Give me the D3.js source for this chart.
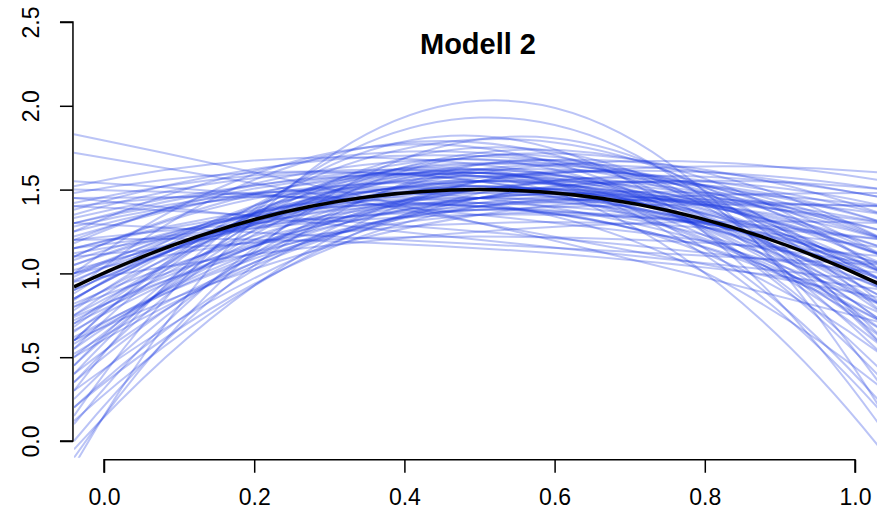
<!DOCTYPE html>
<html>
<head>
<meta charset="utf-8">
<script src="https://cdn.jsdelivr.net/npm/d3@7"></script>
<style>
  body { margin: 0; background: #fff; }
  #chart { width: 877px; height: 521px; }
  text { font-family: "Liberation Sans", Arial, Helvetica, sans-serif; }
</style>
</head>
<body>
<div id="chart"></div>
<script>
// Modell 2: fitted quadratic curves (blue) around the true curve (black)
// each curve read as its value at the left edge (x=-0.04), middle (x=0.5), right edge (x=1.04)
const curveLeft = [
  -0.15, 0.15, -0.10, 0.30, 0.00, 0.10, 0.25, 0.40, -0.05, 0.20, 0.35, 0.45, 0.55, 0.50, 0.60, 0.12, 0.30,
  0.55, 0.60, 0.65, 0.70, 0.75, 0.80, 0.62, 0.68, 0.85, 0.90, 0.72, 0.78, 0.58, 0.82, 0.88, 0.95, 0.66, 0.92, 0.98, 0.74, 0.84, 0.52, 0.96,
  1.00, 1.05, 1.10, 1.15, 1.20, 1.02, 1.25, 1.08, 1.18, 1.30, 1.12, 1.22, 1.28, 1.05, 1.33, 1.15, 1.25, 1.10, 1.20, 1.30, 1.00, 1.35,
  1.40, 1.42, 1.45, 1.48, 1.50, 1.52, 1.55, 1.38, 1.83, 1.72, 1.40, 1.45,
  1.30, 1.20, 1.10, 0.95,
  1.00, 0.80, 0.70, 0.90, 0.50, 1.15, 0.60, 0.85,
  0.60, 0.90, 0.45, 1.00, 0.75, 0.35, 0.20, 0.40, 0.85
];
const curveMid = [
  2.03, 1.93, 1.80, 1.82, 1.65, 1.70, 1.62, 1.75, 1.55, 1.55, 1.60, 1.58, 1.68, 1.52, 1.62, 1.48, 1.45,
  1.50, 1.45, 1.55, 1.60, 1.48, 1.52, 1.40, 1.58, 1.55, 1.50, 1.42, 1.62, 1.38, 1.45, 1.60, 1.52, 1.50, 1.45, 1.58, 1.35, 1.66, 1.42, 1.40,
  1.55, 1.48, 1.62, 1.50, 1.58, 1.45, 1.55, 1.40, 1.68, 1.50, 1.35, 1.62, 1.45, 1.57, 1.60, 1.42, 1.72, 1.52, 1.38, 1.65, 1.30, 1.55,
  1.50, 1.60, 1.45, 1.55, 1.40, 1.65, 1.35, 1.70, 1.30, 1.30, 1.25, 1.20,
  1.18, 1.15, 1.22, 1.25,
  1.55, 1.45, 1.50, 1.60, 1.45, 1.40, 1.35, 1.65,
  1.80, 1.78, 1.72, 1.75, 1.70, 1.50, 1.40, 1.38, 1.42
];
const curveRight = [
  0.15, 0.30, 0.55, 0.05, 0.75, 0.55, 0.90, 0.60, 1.00, 1.10, 0.20, -0.08, 0.35, 0.55, 0.15, 1.20, 1.30,
  0.90, 1.10, 0.80, 0.70, 1.00, 0.85, 1.20, 0.60, 0.95, 1.10, 0.95, 0.75, 0.80, 1.25, 0.65, 0.80, 1.30, 0.90, 1.05, 1.05, 0.90, 1.15, 0.70,
  1.20, 0.95, 1.00, 1.30, 0.85, 1.40, 1.15, 0.75, 1.10, 1.00, 1.20, 1.35, 0.80, 1.50, 1.25, 1.05, 0.95, 0.65, 1.40, 1.45, 1.15, 0.70,
  1.30, 1.10, 1.40, 0.90, 1.20, 1.00, 1.05, 1.20, 0.70, 0.85, 1.00, 0.95,
  1.05, 0.90, 1.10, 1.30,
  1.60, 1.50, 1.45, 1.55, 1.40, 1.48, 1.35, 1.35,
  0.80, 0.50, 1.00, 0.40, 1.20, 0.70, 0.95, 0.50, 0.30
];
// true curve at the same three positions
const trueCurve = [0.92, 1.50, 0.92];

const xTicks = [0, 0.2, 0.4, 0.6, 0.8, 1.0];
const yTicks = [0, 0.5, 1.0, 1.5, 2.0, 2.5];
const xEnds = [-0.04, 0.5, 1.04];
const title = 'Modell 2';

const W = 877, H = 521;
const svg = d3.select('#chart').append('svg')
  .attr('width', W)
  .attr('height', H);

const x = d3.scaleLinear().domain([0, 1]).range([104, 855]);
const y = d3.scaleLinear().domain([0, 2.5]).range([441, 22]);

// plot region clip (R extends the ranges by 4%)
svg.append('clipPath').attr('id', 'plotClip')
  .append('rect')
  .attr('x', x(-0.04))
  .attr('y', y(2.6))
  .attr('width', x(1.04) - x(-0.04))
  .attr('height', y(-0.1) - y(2.6));

// a parabola through three points is a quadratic bezier with the control at the middle x
function parabola(l, m, r) {
  const p = d3.path();
  p.moveTo(x(xEnds[0]), y(l));
  p.quadraticCurveTo(x(xEnds[1]), y(2 * m - (l + r) / 2), x(xEnds[2]), y(r));
  return p.toString();
}

const curves = curveLeft.map((l, i) => ({ l, m: curveMid[i], r: curveRight[i] }));

const plot = svg.append('g').attr('clip-path', 'url(#plotClip)');

plot.selectAll('.fit')
  .data(curves)
  .enter().append('path')
    .attr('class', 'fit')
    .attr('d', d => parabola(d.l, d.m, d.r))
    .attr('fill', 'none')
    .attr('stroke', 'rgb(30,60,225)')
    .attr('stroke-opacity', 0.3)
    .attr('stroke-width', 2);

plot.append('path')
  .attr('d', parabola(trueCurve[0], trueCurve[1], trueCurve[2]))
  .attr('fill', 'none')
  .attr('stroke', '#000')
  .attr('stroke-width', 3.5);

// axes, R style
const yAxis = svg.append('g')
  .attr('transform', `translate(${x(-0.04) - 1},0)`)
  .call(d3.axisLeft(y).tickValues(yTicks).tickSize(13).tickPadding(0).tickFormat(d3.format('.1f')));
yAxis.select('.domain').attr('d', `M-13,${y(0)}H0V${y(2.5)}H-13`).attr('stroke-width', 1.5);
yAxis.selectAll('.tick line').attr('stroke-width', 1.5);
yAxis.selectAll('.tick text')
  .attr('x', 0)
  .attr('dy', 0)
  .attr('transform', 'translate(-40,0) rotate(-90)')
  .attr('text-anchor', 'middle')
  .attr('dominant-baseline', 'middle')
  .style('font-size', '23px')
  .attr('fill', '#000');

const xAxis = svg.append('g')
  .attr('transform', `translate(0,${y(-0.1) + 2})`)
  .call(d3.axisBottom(x).tickValues(xTicks).tickSize(13).tickPadding(0).tickFormat(d3.format('.1f')));
xAxis.select('.domain').attr('d', `M${x(0)},13V0H${x(1)}V13`).attr('stroke-width', 1.5);
xAxis.selectAll('.tick line').attr('stroke-width', 1.5);
xAxis.selectAll('.tick text')
  .attr('y', 45)
  .attr('dy', 0)
  .style('font-size', '23px')
  .attr('fill', '#000');

svg.append('text')
  .attr('x', 478)
  .attr('y', 54)
  .attr('text-anchor', 'middle')
  .style('font-size', '29px')
  .style('font-weight', 'bold')
  .text(title);
</script>
</body>
</html>
